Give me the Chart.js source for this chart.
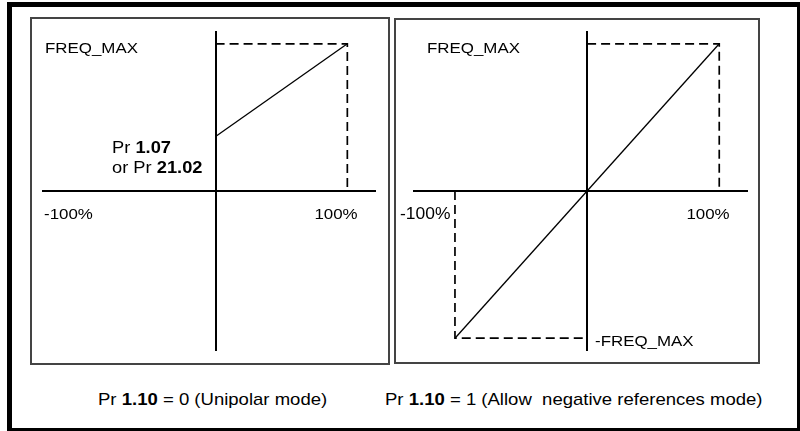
<!DOCTYPE html>
<html>
<head>
<meta charset="utf-8">
<script src="https://cdn.jsdelivr.net/npm/chart.js@4.4.0/dist/chart.umd.min.js"></script>
<style>
  html, body { margin: 0; padding: 0; background: #fff; }
  body { width: 800px; height: 431px; position: relative; overflow: hidden;
         font-family: "Liberation Sans", Arial, sans-serif; color: #000; }
  .frame { position: absolute; left: 7px; top: 2px; width: 795px; height: 431px;
           border: 5px solid #000; box-sizing: border-box; }
  .panel { position: absolute; border: 2px solid #444; box-sizing: border-box; }
  canvas { position: absolute; }
  .lbl { position: absolute; font-size: 15.5px; line-height: 1; white-space: pre;
         transform-origin: left center; transform: translateY(-50%) scaleX(1.09); }
  .lbl.r { transform-origin: right center; }
  .lbl.pr { font-size: 16.8px; }
  .cap { font-size: 17px; }
</style>
</head>
<body>
<div class="frame"></div>
<div class="panel" style="left:30px; top:17px; width:360px; height:348px;"></div>
<div class="panel" style="left:394px; top:18px; width:366px; height:346px;"></div>

<canvas id="unipolar" width="360" height="348" style="left:30px; top:17px; width:360px; height:348px;"></canvas>
<canvas id="bipolar" width="366" height="346" style="left:394px; top:18px; width:366px; height:346px;"></canvas>

<!-- left panel text -->
<div class="lbl" style="left:45px; top:47.5px;">FREQ_MAX</div>
<div class="lbl pr" style="left:112px; top:148px;">Pr <b>1.07</b></div>
<div class="lbl pr" style="left:112px; top:168px;">or Pr <b>21.02</b></div>
<div class="lbl" style="left:44px; top:213.5px;">-100%</div>
<div class="lbl r" style="right:442px; top:213.5px;">100%</div>
<div class="lbl cap" style="left:98px; top:398.5px;">Pr <b>1.10</b> = 0 (Unipolar mode)</div>

<!-- right panel text -->
<div class="lbl" style="left:427px; top:47.5px;">FREQ_MAX</div>
<div class="lbl" style="left:400px; top:213.5px; font-size:16px;">-100%</div>
<div class="lbl r" style="right:70px; top:213.5px;">100%</div>
<div class="lbl" style="left:595px; top:340.5px;">-FREQ_MAX</div>
<div class="lbl cap" style="left:385px; top:398.5px;">Pr <b>1.10</b> = 1 (Allow  negative references mode)</div>

<script>
// reference input (% of full scale) and output frequency (% of FREQ_MAX)
const unipolarRef = [0, 100];
const unipolarFreq = [37, 100];      // starts at Pr 1.07 / Pr 21.02
const bipolarRef = [-100, 100];
const bipolarFreq = [-100, 100];

// dashed guide lines
const guideTopRef = [0, 100, 100];
const guideTopFreq = [100, 100, 0];
const guideBottomRef = [-100, -100, 0];
const guideBottomFreq = [0, -100, -100];

// visible extent of the axes
const refRange = [-131, 121];
const freqRange = [-108, 108];

function points(xs, ys) {
  return xs.map((x, i) => ({ x: x, y: ys[i] }));
}

function solid(xs, ys) {
  return { data: points(xs, ys), showLine: true, borderColor: '#000',
           borderWidth: 1.3, pointRadius: 0, fill: false };
}

function dashed(xs, ys) {
  return { data: points(xs, ys), showLine: true, borderColor: '#000',
           borderWidth: 1.7, borderDash: [9, 5], pointRadius: 0, fill: false };
}

function axes() {
  const common = {
    type: 'linear',
    grid: { display: false, drawTicks: false },
    ticks: { display: false },
    border: { display: true, color: '#000', width: 2 }
  };
  return {
    x: Object.assign({}, common, { min: refRange[0], max: refRange[1], position: { y: 0 } }),
    y: Object.assign({}, common, { min: freqRange[0], max: freqRange[1], position: { x: 0 } })
  };
}

function makeChart(id, datasets, padding) {
  return new Chart(document.getElementById(id), {
    type: 'scatter',
    data: { datasets: datasets },
    options: {
      responsive: false,
      animation: false,
      events: [],
      layout: { padding: padding },
      plugins: { legend: { display: false }, tooltip: { enabled: false } },
      scales: axes()
    }
  });
}

makeChart('unipolar', [
  dashed(guideTopRef, guideTopFreq),
  solid(unipolarRef, unipolarFreq)
], { left: 13, right: 15, top: 15, bottom: 15 });

makeChart('bipolar', [
  dashed(guideTopRef, guideTopFreq),
  dashed(guideBottomRef, guideBottomFreq),
  solid(bipolarRef, bipolarFreq)
], { left: 20, right: 13, top: 14, bottom: 14 });
</script>
</body>
</html>
